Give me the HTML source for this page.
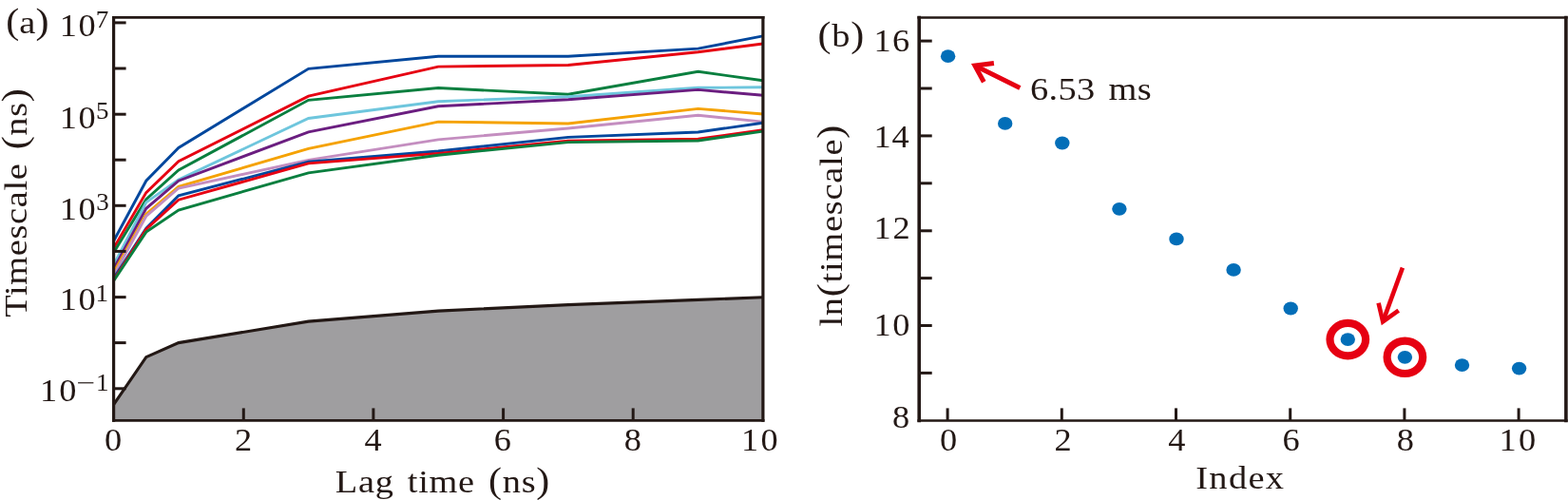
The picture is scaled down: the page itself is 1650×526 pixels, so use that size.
<!DOCTYPE html>
<html lang="en">
<head>
<meta charset="utf-8">
<title>Timescale vs lag time</title>
<style>
html,body{margin:0;padding:0;background:#fff;}
body{width:1650px;height:526px;overflow:hidden;}
svg{display:block;}
</style>
</head>
<body>
<svg width="1650" height="526" viewBox="0 0 1650 526">
<rect width="1650" height="526" fill="#fff"/>
<defs><clipPath id="ca"><rect x="119.6" y="18.4" width="683.3" height="423.9"/></clipPath></defs>
<g clip-path="url(#ca)">
<polygon points="119.6,425.6 153.8,375.7 187.9,360.6 324.6,338.1 461.2,327.1 597.9,320.6 734.6,315.4 802.9,312.8 802.9,442.4 119.6,442.4" fill="#9F9EA0"/>
<polyline points="119.6,425.6 153.8,375.7 187.9,360.6 324.6,338.1 461.2,327.1 597.9,320.6 734.6,315.4 802.9,312.8" fill="none" stroke="#231815" stroke-width="3.1" stroke-linejoin="miter"/>
<polyline points="119.6,253.5 153.8,190.2 187.9,155.4 324.6,72.3 461.2,59.3 597.9,59.2 734.6,51.1 802.9,37.9" fill="none" stroke="#00479D" stroke-width="2.9" stroke-linejoin="miter"/>
<polyline points="119.6,261.1 153.8,202.6 187.9,169.6 324.6,101.2 461.2,70.1 597.9,68.5 734.6,54.8 802.9,46.0" fill="none" stroke="#E60012" stroke-width="2.9" stroke-linejoin="miter"/>
<polyline points="119.6,265.7 153.8,209.7 187.9,178.9 324.6,105.3 461.2,92.5 597.9,99.3 734.6,75.3 802.9,84.8" fill="none" stroke="#0A7F3F" stroke-width="2.9" stroke-linejoin="miter"/>
<polyline points="119.6,278.7 153.8,212.9 187.9,188.9 324.6,124.5 461.2,106.7 597.9,101.7 734.6,92.3 802.9,91.8" fill="none" stroke="#6EC6DD" stroke-width="2.9" stroke-linejoin="miter"/>
<polyline points="119.6,283.0 153.8,219.3 187.9,190.2 324.6,138.9 461.2,111.8 597.9,104.7 734.6,94.4 802.9,100.3" fill="none" stroke="#6B1E80" stroke-width="2.9" stroke-linejoin="miter"/>
<polyline points="119.6,286.7 153.8,225.3 187.9,196.4 324.6,156.3 461.2,128.1 597.9,130.0 734.6,114.4 802.9,120.0" fill="none" stroke="#F5A200" stroke-width="2.9" stroke-linejoin="miter"/>
<polyline points="119.6,289.6 153.8,227.5 187.9,198.0 324.6,168.4 461.2,146.9 597.9,135.0 734.6,121.3 802.9,128.1" fill="none" stroke="#C48EC0" stroke-width="2.9" stroke-linejoin="miter"/>
<polyline points="119.6,292.7 153.8,240.2 187.9,205.8 324.6,170.3 461.2,159.0 597.9,144.4 734.6,139.0 802.9,129.3" fill="none" stroke="#00479D" stroke-width="2.9" stroke-linejoin="miter"/>
<polyline points="119.6,294.7 153.8,241.3 187.9,210.2 324.6,171.9 461.2,161.4 597.9,148.1 734.6,146.1 802.9,136.8" fill="none" stroke="#E60012" stroke-width="2.9" stroke-linejoin="miter"/>
<polyline points="119.6,295.5 153.8,244.1 187.9,221.0 324.6,181.8 461.2,163.3 597.9,149.6 734.6,148.0 802.9,138.1" fill="none" stroke="#0A7F3F" stroke-width="2.9" stroke-linejoin="miter"/>
</g>
<line x1="119.6" y1="23.9" x2="132.6" y2="23.9" stroke="#231815" stroke-width="3.0"/>
<line x1="119.6" y1="72.0" x2="132.6" y2="72.0" stroke="#231815" stroke-width="3.0"/>
<line x1="119.6" y1="120.2" x2="132.6" y2="120.2" stroke="#231815" stroke-width="3.0"/>
<line x1="119.6" y1="168.2" x2="132.6" y2="168.2" stroke="#231815" stroke-width="3.0"/>
<line x1="119.6" y1="216.3" x2="132.6" y2="216.3" stroke="#231815" stroke-width="3.0"/>
<line x1="119.6" y1="264.4" x2="132.6" y2="264.4" stroke="#231815" stroke-width="3.0"/>
<line x1="119.6" y1="312.6" x2="132.6" y2="312.6" stroke="#231815" stroke-width="3.0"/>
<line x1="119.6" y1="360.6" x2="132.6" y2="360.6" stroke="#231815" stroke-width="3.0"/>
<line x1="119.6" y1="408.8" x2="132.6" y2="408.8" stroke="#231815" stroke-width="3.0"/>
<line x1="256.3" y1="442.4" x2="256.3" y2="429.4" stroke="#231815" stroke-width="3.0"/>
<line x1="392.9" y1="442.4" x2="392.9" y2="429.4" stroke="#231815" stroke-width="3.0"/>
<line x1="529.6" y1="442.4" x2="529.6" y2="429.4" stroke="#231815" stroke-width="3.0"/>
<line x1="666.2" y1="442.4" x2="666.2" y2="429.4" stroke="#231815" stroke-width="3.0"/>
<g stroke="#231815" fill="none" stroke-linecap="butt">
<path d="M118.00 18.45 H804.50 M118.00 442.40 H804.50" stroke-width="2.80"/>
<path d="M119.60 17.05 V443.80 M802.90 17.05 V443.80" stroke-width="3.20"/>
</g>
<line x1="967.2" y1="392.4" x2="980.7" y2="392.4" stroke="#231815" stroke-width="3.0"/>
<line x1="967.2" y1="342.5" x2="980.7" y2="342.5" stroke="#231815" stroke-width="3.0"/>
<line x1="967.2" y1="292.6" x2="980.7" y2="292.6" stroke="#231815" stroke-width="3.0"/>
<line x1="967.2" y1="242.8" x2="980.7" y2="242.8" stroke="#231815" stroke-width="3.0"/>
<line x1="967.2" y1="192.8" x2="980.7" y2="192.8" stroke="#231815" stroke-width="3.0"/>
<line x1="967.2" y1="142.9" x2="980.7" y2="142.9" stroke="#231815" stroke-width="3.0"/>
<line x1="967.2" y1="93.0" x2="980.7" y2="93.0" stroke="#231815" stroke-width="3.0"/>
<line x1="967.2" y1="43.1" x2="980.7" y2="43.1" stroke="#231815" stroke-width="3.0"/>
<line x1="997.1" y1="442.4" x2="997.1" y2="429.4" stroke="#231815" stroke-width="3.0"/>
<line x1="1117.3" y1="442.4" x2="1117.3" y2="429.4" stroke="#231815" stroke-width="3.0"/>
<line x1="1237.5" y1="442.4" x2="1237.5" y2="429.4" stroke="#231815" stroke-width="3.0"/>
<line x1="1357.7" y1="442.4" x2="1357.7" y2="429.4" stroke="#231815" stroke-width="3.0"/>
<line x1="1477.9" y1="442.4" x2="1477.9" y2="429.4" stroke="#231815" stroke-width="3.0"/>
<line x1="1598.1" y1="442.4" x2="1598.1" y2="429.4" stroke="#231815" stroke-width="3.0"/>
<g stroke="#231815" fill="none" stroke-linecap="butt">
<path d="M965.40 18.40 H1649.70 M965.40 442.40 H1649.70" stroke-width="2.50"/>
<path d="M967.20 16.65 V444.15 M1647.90 16.65 V444.15" stroke-width="3.60"/>
</g>
<ellipse cx="997.6" cy="59.2" rx="7.7" ry="6.9" fill="#036EB8"/>
<ellipse cx="1057.7" cy="129.9" rx="7.7" ry="6.9" fill="#036EB8"/>
<ellipse cx="1117.8" cy="150.5" rx="7.7" ry="6.9" fill="#036EB8"/>
<ellipse cx="1177.9" cy="219.8" rx="7.7" ry="6.9" fill="#036EB8"/>
<ellipse cx="1238.0" cy="251.4" rx="7.7" ry="6.9" fill="#036EB8"/>
<ellipse cx="1298.1" cy="283.9" rx="7.7" ry="6.9" fill="#036EB8"/>
<ellipse cx="1358.2" cy="324.5" rx="7.7" ry="6.9" fill="#036EB8"/>
<ellipse cx="1418.3" cy="357.1" rx="7.7" ry="6.9" fill="#036EB8"/>
<ellipse cx="1478.4" cy="375.8" rx="7.7" ry="6.9" fill="#036EB8"/>
<ellipse cx="1538.5" cy="384.1" rx="7.7" ry="6.9" fill="#036EB8"/>
<ellipse cx="1598.6" cy="387.6" rx="7.7" ry="6.9" fill="#036EB8"/>
<ellipse cx="1418.3" cy="357.1" rx="18.8" ry="17.2" fill="none" stroke="#E60012" stroke-width="8.2"/>
<ellipse cx="1478.4" cy="375.8" rx="18.8" ry="17.2" fill="none" stroke="#E60012" stroke-width="8.2"/>
<g fill="none" stroke="#E60012" stroke-width="5" stroke-linejoin="miter" stroke-miterlimit="10">
<path d="M1073.3 92.5 L1026.8 69.5"/>
<path d="M1045.9 66.5 L1025.9 69.1 L1035.3 86.3"/>
</g>
<g fill="none" stroke="#E60012" stroke-width="4.6" stroke-linejoin="miter" stroke-miterlimit="10">
<path d="M1475.9 281.6 L1455.5 337.6"/>
<path d="M1450.6 318.8 L1455.2 338.4 L1471.7 326.6"/>
</g>
<g font-family="'Liberation Serif', 'DejaVu Serif', serif" fill="#231815" word-spacing="3.5">
<text transform="translate(6.24 34.70) scale(1.120 1)" textLength="40.41" lengthAdjust="spacing" font-size="34.3"><tspan font-size="37.6">(</tspan>a<tspan font-size="37.6">)</tspan></text>
<text transform="translate(860.51 48.50) scale(1.120 1)" textLength="43.46" lengthAdjust="spacing" font-size="34.3"><tspan font-size="37.6">(</tspan>b<tspan font-size="37.6">)</tspan></text>
<text transform="translate(62.66 38.40) scale(1.060 1)" textLength="35.98" lengthAdjust="spacing" font-size="34.3">10</text>
<text transform="translate(100.70 28.60) scale(1.120 1)" font-size="24.2">7</text>
<text transform="translate(62.66 135.00) scale(1.060 1)" textLength="35.98" lengthAdjust="spacing" font-size="34.3">10</text>
<text transform="translate(101.09 124.70) scale(1.120 1)" font-size="24.2">5</text>
<text transform="translate(62.66 230.90) scale(1.060 1)" textLength="35.98" lengthAdjust="spacing" font-size="34.3">10</text>
<text transform="translate(101.17 220.90) scale(1.120 1)" font-size="24.2">3</text>
<text transform="translate(62.66 326.30) scale(1.060 1)" textLength="35.98" lengthAdjust="spacing" font-size="34.3">10</text>
<text transform="translate(100.48 316.60) scale(1.120 1)" font-size="24.2">1</text>
<text transform="translate(42.04 421.50) scale(1.060 1)" textLength="36.11" lengthAdjust="spacing" font-size="34.3">10</text>
<text transform="translate(80.61 411.30) scale(1.450 1)" font-size="24.2">−</text>
<text transform="translate(100.91 411.30) scale(1.120 1)" font-size="24.2">1</text>
<text transform="translate(110.07 474.30) scale(1.060 1)" font-size="34.3">0</text>
<text transform="translate(247.05 474.30) scale(1.060 1)" font-size="34.3">2</text>
<text transform="translate(383.39 474.30) scale(1.060 1)" font-size="34.3">4</text>
<text transform="translate(519.74 474.30) scale(1.060 1)" font-size="34.3">6</text>
<text transform="translate(656.68 474.30) scale(1.060 1)" font-size="34.3">8</text>
<text transform="translate(779.96 474.30) scale(1.060 1)" textLength="36.60" lengthAdjust="spacing" font-size="34.3">10</text>
<text transform="translate(352.80 517.50) scale(1.120 1)" textLength="201.36" lengthAdjust="spacing" font-size="34.3">Lag time <tspan font-size="37.6">(</tspan>ns<tspan font-size="37.6">)</tspan></text>
<text transform="translate(28.40 333.75) rotate(-90) scale(1.120 1)" textLength="214.79" lengthAdjust="spacing" font-size="34.3">Timescale <tspan font-size="37.6">(</tspan>ns<tspan font-size="37.6">)</tspan></text>
<text transform="translate(919.51 54.30) scale(1.060 1)" textLength="35.60" lengthAdjust="spacing" font-size="34.3">16</text>
<text transform="translate(919.51 155.00) scale(1.060 1)" textLength="35.11" lengthAdjust="spacing" font-size="34.3">14</text>
<text transform="translate(919.51 250.90) scale(1.060 1)" textLength="35.94" lengthAdjust="spacing" font-size="34.3">12</text>
<text transform="translate(919.51 352.80) scale(1.060 1)" textLength="35.87" lengthAdjust="spacing" font-size="34.3">10</text>
<text transform="translate(938.88 449.50) scale(1.060 1)" font-size="34.3">8</text>
<text transform="translate(989.01 474.30) scale(1.060 1)" font-size="34.3">0</text>
<text transform="translate(1109.45 474.30) scale(1.060 1)" font-size="34.3">2</text>
<text transform="translate(1229.20 474.30) scale(1.060 1)" font-size="34.3">4</text>
<text transform="translate(1349.40 474.30) scale(1.060 1)" font-size="34.3">6</text>
<text transform="translate(1469.74 474.30) scale(1.060 1)" font-size="34.3">8</text>
<text transform="translate(1577.51 474.30) scale(1.060 1)" textLength="36.47" lengthAdjust="spacing" font-size="34.3">10</text>
<text transform="translate(1258.27 514.40) scale(1.120 1)" textLength="82.77" lengthAdjust="spacing" font-size="34.3">Index</text>
<text transform="translate(885.50 343.53) rotate(-90) scale(1.120 1)" textLength="189.05" lengthAdjust="spacing" font-size="34.3">ln<tspan font-size="37.6">(</tspan>timescale<tspan font-size="37.6">)</tspan></text>
<text transform="translate(1084.01 105.00) scale(1.120 1)" textLength="113.94" lengthAdjust="spacing" font-size="34.3">6.53 ms</text>
</g>
</svg>
</body>
</html>
